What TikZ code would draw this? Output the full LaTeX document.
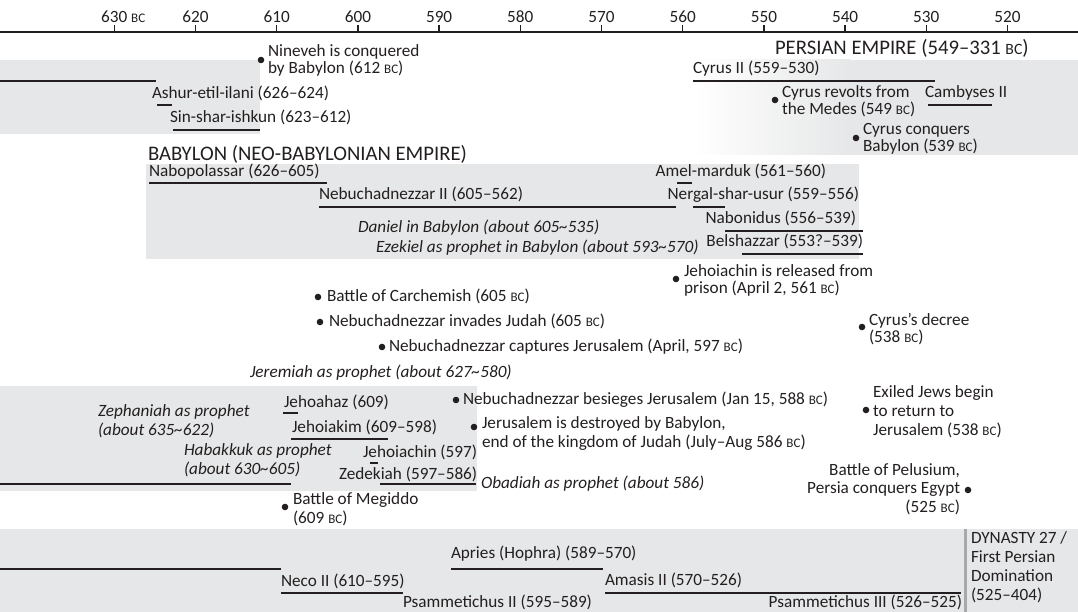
\documentclass[tikz,border=0pt]{standalone}
\usepackage{fontspec}
\setmainfont{Carlito}
\usepackage{graphicx}
\definecolor{ink}{HTML}{231F20}
\definecolor{boxgray}{HTML}{E6E7E8}
\definecolor{divgray}{HTML}{A7A9AC}
\newcommand{\BC}{\scalebox{0.76}{BC}}
\newcommand{\tld}{\textasciitilde}
\tikzset{
  lbl/.style={inner sep=0pt, outer sep=0pt, text=ink, font=\fontsize{17.2}{18.5}\selectfont},
  lw/.style={lbl, anchor=base west, align=left},
  le/.style={lbl, anchor=base east, align=right},
  it/.style={lw, font=\fontsize{17.2}{18.5}\selectfont\itshape},
  tight/.style={font=\fontsize{17.2}{17}\selectfont},
  loose/.style={font=\fontsize{17.2}{19}\selectfont},
  hdr/.style={lw, font=\fontsize{20.7}{21}\selectfont},
  ticklbl/.style={lbl, anchor=base},
  reign/.style={draw=ink, line width=2.6pt},
  evdot/.style={circle, fill=ink, inner sep=0pt, minimum size=6.6pt},
  band/.style={fill=boxgray, draw=none},
}
\begin{document}
\begin{tikzpicture}[x=1pt,y=-1pt]
\useasboundingbox (0,0) rectangle (1078,612);
% ---------- bands
\fill[band] (0,60) rectangle (260,134);
\shade[left color=white,right color=boxgray] (693,60) rectangle (850,155);
\fill[band] (849.5,60) rectangle (1078,155);
\fill[band] (146,164) rectangle (859,259);
\fill[band] (0,386) rectangle (477,491);
\fill[band] (0,529) rectangle (1078,612);
\fill[divgray] (963.5,529) rectangle (966.5,612);
% ---------- axis
\draw[ink, line width=2pt] (0,32) -- (1078,32);
\foreach \yr in {630,620,...,520}{
  \pgfmathsetmacro\xx{114.3+(630-\yr)*8.12}
  \draw[ink, line width=1.4pt] (\xx,25) -- (\xx,32);
}
\node[lbl, anchor=base west] (t630) at (101.2,23) {630 \BC};
\foreach \yr in {620,610,...,520}{
  \pgfmathsetmacro\xx{114.3+(630-\yr)*8.12}
  \node[ticklbl] (t\yr) at (\xx,23) {\yr};
}
% ---------- Assyria
\draw[reign] (0,81) -- (156,81);
\node[lw] (ashur) at (152,99) {Ashur-etil-ilani (626–624)};
\draw[reign] (157,105) -- (172,105);
\node[lw] (sin) at (170,123) {Sin-shar-ishkun (623–612)};
\draw[reign] (173,130) -- (260,130);
\node[evdot] (dnin) at (261,60) {};
\node[lw, tight] (nin) at (268,74) {Nineveh is conquered\\by Babylon (612 \BC)};
% ---------- Persia
\node[hdr] (persia) at (775,55) {PERSIAN EMPIRE (549–331 \BC)};
\node[lw] (cyrus) at (693,74) {Cyrus II (559–530)};
\draw[reign] (693,81) -- (935,81);
\node[evdot] (drev) at (775,100) {};
\node[lw, tight] (rev) at (782,115) {Cyrus revolts from\\the Medes (549 \BC)};
\node[lw] (camb) at (925,98) {Cambyses II};
\draw[reign] (928,105) -- (992,105);
\node[evdot] (dconq) at (856,138) {};
\node[lw, tight] (conq) at (863,152) {Cyrus conquers\\Babylon (539 \BC)};
% ---------- Babylon
\node[hdr] (babylon) at (148,161) {BABYLON (NEO-BABYLONIAN EMPIRE)};
\node[lw] (nabop) at (149,177) {Nabopolassar (626–605)};
\draw[reign] (149,183) -- (327,183);
\node[le] (amel) at (826,177) {Amel-marduk (561–560)};
\draw[reign] (677,183) -- (692,183);
\node[lw] (nebu) at (319,200) {Nebuchadnezzar II (605–562)};
\draw[reign] (319,207) -- (676,207);
\node[le] (nerg) at (859,200) {Nergal-shar-usur (559–556)};
\draw[reign] (693,207) -- (725,207);
\node[le] (nabon) at (856,224) {Nabonidus (556–539)};
\draw[reign] (725,231) -- (863,231);
\node[it] (daniel) at (358,233) {Daniel in Babylon (about 605\tld535)};
\node[it] (ezek) at (376,252) {Ezekiel as prophet in Babylon (about 593\tld570)};
\node[le] (bels) at (863,247) {Belshazzar (553?–539)};
\draw[reign] (742,254) -- (863,254);
% ---------- events middle
\node[evdot] (drel) at (676,279) {};
\node[lw, tight] (rel) at (684,293) {Jehoiachin is released from\\prison (April 2, 561 \BC)};
\node[evdot] (dcarc) at (318,297) {};
\node[lw] (carc) at (327,301) {Battle of Carchemish (605 \BC)};
\node[evdot] (dinv) at (320,322) {};
\node[lw] (inv) at (329,326) {Nebuchadnezzar invades Judah (605 \BC)};
\node[evdot] (ddec) at (862,327) {};
\node[lw, tight] (dec) at (869,342) {Cyrus’s decree\\(538 \BC)};
\node[evdot] (dcap) at (382,347) {};
\node[lw] (cap) at (389,351) {Nebuchadnezzar captures Jerusalem (April, 597 \BC)};
\node[it] (jer) at (250,377) {Jeremiah as prophet (about 627\tld580)};
% ---------- Judah
\node[evdot] (dbes) at (456,400) {};
\node[lw] (bes) at (463,404) {Nebuchadnezzar besieges Jerusalem (Jan 15, 588 \BC)};
\node[lw, loose] (exil) at (873,435) {Exiled Jews begin\\to return to\\Jerusalem (538 \BC)};
\node[evdot] (dexil) at (866,410) {};
\node[lw] (jahaz) at (284,407) {Jehoahaz (609)};
\draw[reign] (283,413) -- (298,413);
\node[it] (zeph) at (98,435) {Zephaniah as prophet\\(about 635\tld622)};
\node[lw] (jakim) at (292,432) {Jehoiakim (609–598)};
\draw[reign] (291,439) -- (388,439);
\node[evdot] (ddes) at (474,427) {};
\node[lw] (des) at (482,447) {Jerusalem is destroyed by Babylon,\\end of the kingdom of Judah (July–Aug 586 \BC)};
\node[it] (habak) at (184,474) {Habakkuk as prophet\\(about 630\tld605)};
\node[lw] (jachin) at (363,457) {Jehoiachin (597)};
\draw[reign] (370,463) -- (378,463);
\node[lw] (zed) at (339,479) {Zedekiah (597–586)};
\draw[reign] (380,484) -- (476,484);
\draw[reign] (0,484) -- (291,484);
\node[it] (obad) at (481,488) {Obadiah as prophet (about 586)};
\node[le] (pel) at (960,512) {Battle of Pelusium,\\Persia conquers Egypt\\(525 \BC)};
\node[evdot] (dpel) at (968,490) {};
\node[evdot] (dmeg) at (285,507) {};
\node[lw] (meg) at (293,523) {Battle of Megiddo\\(609 \BC)};
% ---------- Egypt
\node[lw, loose] (dyn) at (971,600) {DYNASTY 27 /\\First Persian\\Domination\\(525–404)};
\draw[reign] (0,569) -- (281,569);
\node[lw] (apries) at (451,558) {Apries (Hophra) (589–570)};
\draw[reign] (451,569) -- (603,569);
\node[lw] (neco) at (281,586) {Neco II (610–595)};
\draw[reign] (281,593) -- (403,593);
\node[lw] (amasis) at (605,585) {Amasis II (570–526)};
\draw[reign] (605,593) -- (961,593);
\node[lw] (psam2) at (403,607) {Psammetichus II (595–589)};
\node[le] (psam3) at (962,607) {Psammetichus III (526–525)};
\end{tikzpicture}
\end{document}
